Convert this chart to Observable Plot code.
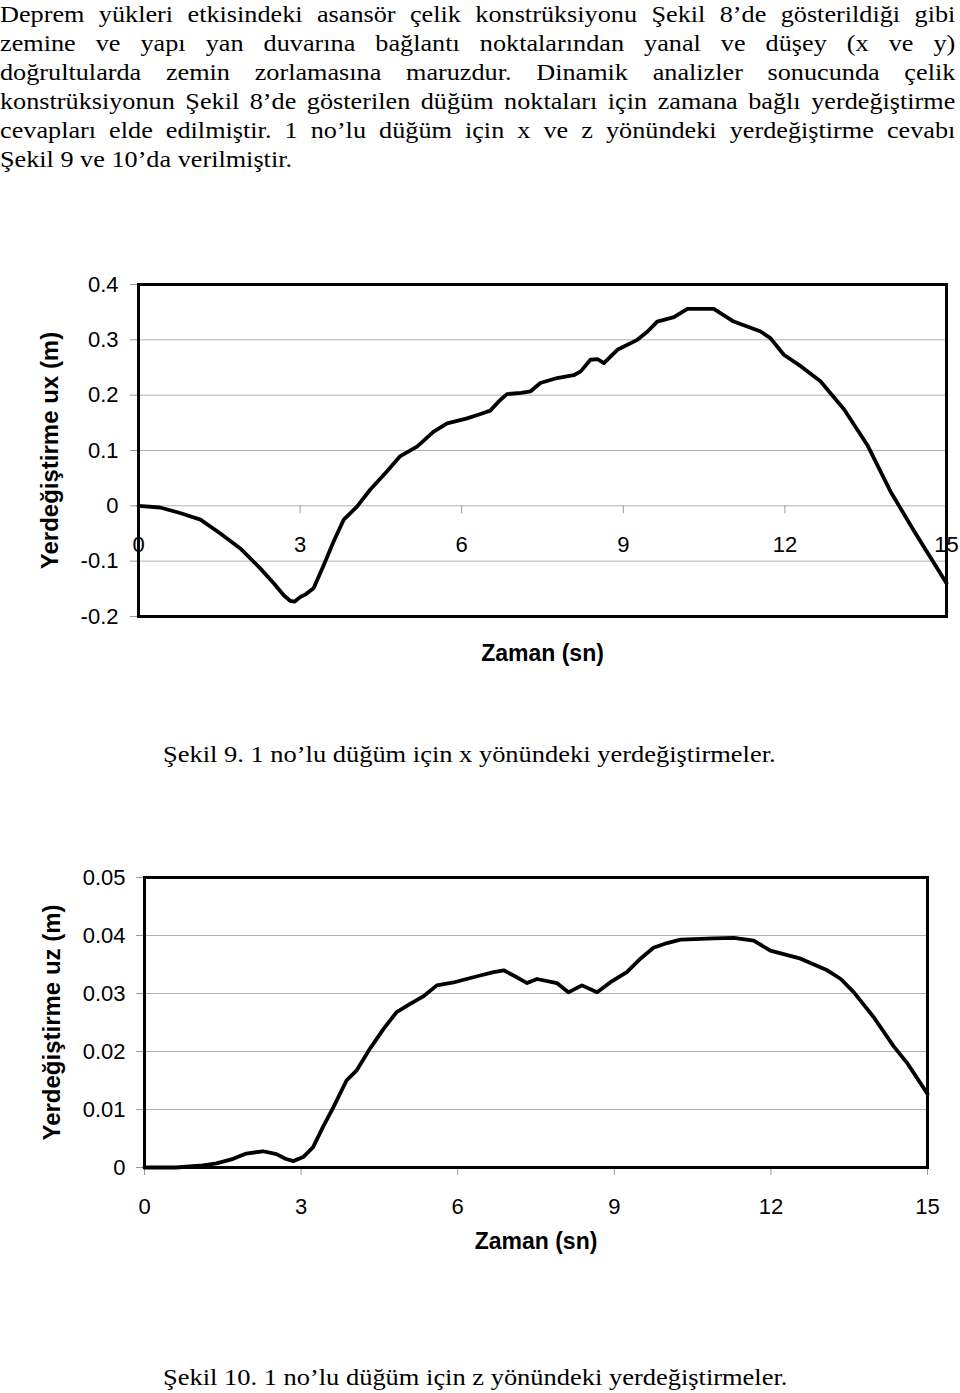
<!DOCTYPE html>
<html>
<head>
<meta charset="utf-8">
<script src="https://cdn.jsdelivr.net/npm/d3@7"></script>
<script src="https://cdn.jsdelivr.net/npm/@observablehq/plot@0.6"></script>
<style>
  html, body { margin: 0; padding: 0; background: #fff; }
  body { width: 960px; height: 1393px; position: relative; overflow: hidden; }
  .para { position: absolute; left: 0; top: 0; font-family: "Liberation Serif", "Times New Roman", serif; font-size: 23px; line-height: 29px; color: #000; }
  .para div { width: 838px; transform: scaleX(1.14); transform-origin: 0 0; text-align: justify; text-align-last: justify; white-space: nowrap; }
  .para div.last { text-align-last: left; }
  .cap { position: absolute; left: 163px; font-family: "Liberation Serif", "Times New Roman", serif; font-size: 23px; line-height: 29px; transform: scaleX(1.15); transform-origin: 0 0; white-space: nowrap; color: #000; }
  .chart { position: absolute; left: 0; }
</style>
</head>
<body>
<div class="para" id="para"></div>
<div class="chart" id="chart1" style="top:260px"></div>
<div class="cap" id="cap1" style="top:740px"></div>
<div class="chart" id="chart2" style="top:850px"></div>
<div class="cap" id="cap2" style="top:1363px"></div>
<script>
// ---- text ----
const paragraphLines = [
  "Deprem yükleri etkisindeki asansör çelik konstrüksiyonu Şekil 8’de gösterildiği gibi",
  "zemine ve yapı yan duvarına bağlantı noktalarından yanal ve düşey (x ve y)",
  "doğrultularda zemin zorlamasına maruzdur. Dinamik analizler sonucunda çelik",
  "konstrüksiyonun Şekil 8’de gösterilen düğüm noktaları için zamana bağlı yerdeğiştirme",
  "cevapları elde edilmiştir. 1 no’lu düğüm için x ve z yönündeki yerdeğiştirme cevabı",
  "Şekil 9 ve 10’da verilmiştir."
];
const caption1 = "Şekil 9. 1 no’lu düğüm için x yönündeki yerdeğiştirmeler.";
const caption2 = "Şekil 10. 1 no’lu düğüm için z yönündeki yerdeğiştirmeler.";
const xLabel = "Zaman (sn)";
const yLabel1 = "Yerdeğiştirme ux (m)";
const yLabel2 = "Yerdeğiştirme uz (m)";

// ---- ticks ----
const xTicks = [0, 3, 6, 9, 12, 15];
const yTicks1 = [-0.2, -0.1, 0, 0.1, 0.2, 0.3, 0.4];
const yTicks2 = [0, 0.01, 0.02, 0.03, 0.04, 0.05];

// ---- Şekil 9: ux (m) vs zaman (sn) ----
const time1 = [0, 0.4, 0.77, 1.15, 1.52, 1.89, 2.26, 2.51, 2.7, 2.82, 2.9, 3.0, 3.1, 3.25, 3.44, 3.62, 3.81, 4.06, 4.3, 4.61, 4.86, 5.17, 5.48, 5.73, 6.1, 6.35, 6.53, 6.7, 6.84, 7.1, 7.28, 7.46, 7.77, 8.08, 8.21, 8.39, 8.52, 8.64, 8.89, 9.26, 9.45, 9.63, 9.94, 10.19, 10.68, 11.05, 11.55, 11.73, 11.98, 12.3, 12.66, 13.1, 13.53, 13.96, 14.4, 15.0];
const ux    = [0, -0.003, -0.013, -0.025, -0.05, -0.077, -0.113, -0.14, -0.162, -0.172, -0.173, -0.165, -0.16, -0.149, -0.107, -0.065, -0.025, -0.001, 0.029, 0.062, 0.09, 0.107, 0.134, 0.149, 0.158, 0.166, 0.172, 0.19, 0.202, 0.204, 0.207, 0.222, 0.231, 0.236, 0.243, 0.264, 0.265, 0.258, 0.282, 0.3, 0.315, 0.333, 0.341, 0.356, 0.356, 0.333, 0.315, 0.303, 0.273, 0.252, 0.225, 0.174, 0.11, 0.026, -0.046, -0.14];

// ---- Şekil 10: uz (m) vs zaman (sn) ----
const time2 = [0, 0.6, 1.06, 1.38, 1.7, 1.95, 2.27, 2.53, 2.7, 2.85, 3.04, 3.23, 3.42, 3.62, 3.87, 4.06, 4.32, 4.58, 4.83, 5.09, 5.34, 5.6, 5.92, 6.17, 6.43, 6.69, 6.88, 7.07, 7.33, 7.52, 7.9, 8.12, 8.38, 8.67, 8.92, 9.24, 9.5, 9.75, 10.01, 10.27, 10.91, 11.29, 11.67, 11.99, 12.57, 13.08, 13.34, 13.59, 13.97, 14.36, 14.62, 15.0];
const uz    = [0, 0, 0.0003, 0.0007, 0.0015, 0.0024, 0.0028, 0.0023, 0.0015, 0.0011, 0.0018, 0.0035, 0.007, 0.0104, 0.015, 0.0167, 0.0205, 0.0239, 0.0268, 0.0282, 0.0295, 0.0314, 0.0319, 0.0325, 0.0331, 0.0337, 0.034, 0.0331, 0.0318, 0.0325, 0.0318, 0.0302, 0.0314, 0.0302, 0.0319, 0.0337, 0.036, 0.0379, 0.0387, 0.0393, 0.0395, 0.0396, 0.0391, 0.0374, 0.036, 0.034, 0.0325, 0.0302, 0.0259, 0.0208, 0.0179, 0.0127];

// ---- build ----
const paraEl = document.getElementById("para");
paragraphLines.forEach((t, i) => {
  const d = document.createElement("div");
  d.textContent = t;
  if (i === paragraphLines.length - 1) d.className = "last";
  paraEl.appendChild(d);
});
document.getElementById("cap1").textContent = caption1;
document.getElementById("cap2").textContent = caption2;

const fmt = d => String(d);

function makeChart({times, values, yDomain, yTicks, yLabel, height, marginTop, marginBottom, marginLeft, marginRight, tickPadding, labelDx, xLabelDy}) {
  const data = times.map((t, i) => ({t, v: values[i]}));
  return Plot.plot({
    width: 960,
    height,
    marginTop, marginBottom, marginLeft, marginRight,
    style: {fontFamily: "'Liberation Sans', Arial, sans-serif", fontSize: "22px", color: "#000", background: "#fff", overflow: "visible"},
    x: {domain: [0, 15], axis: null},
    y: {domain: yDomain},
    marks: [
      Plot.gridY(yTicks, {stroke: "#b0b0b0", strokeOpacity: 1, strokeWidth: 1}),
      Plot.axisY(yTicks, {tickSize: 8, tickPadding, stroke: "#999", tickFormat: fmt, label: null, fontSize: 22}),
      Plot.ruleX(xTicks, {x: d => d, y1: 0, y2: 0, insetBottom: -8, stroke: "#999"}),
      Plot.text(xTicks, {x: d => d, y: 0, dy: 39, text: fmt, fontSize: 22}),
      Plot.line(data, {x: "t", y: "v", stroke: "#000", strokeWidth: 3.8, strokeLinejoin: "round"}),
      Plot.frame({stroke: "#000", strokeWidth: 3}),
      Plot.text([yLabel], {frameAnchor: "left", textAnchor: "middle", rotate: -90, dx: labelDx, text: d => d, fontWeight: "bold", fontSize: 24}),
      Plot.text([xLabel], {frameAnchor: "bottom", dy: xLabelDy, text: d => d, fontWeight: "bold", fontSize: 23})
    ]
  });
}

document.getElementById("chart1").appendChild(makeChart({
  times: time1, values: ux, yDomain: [-0.2, 0.4], yTicks: yTicks1, yLabel: yLabel1,
  height: 420, marginTop: 24, marginBottom: 64, marginLeft: 138, marginRight: 14,
  tickPadding: 12, labelDx: -88, xLabelDy: 44
}));

document.getElementById("chart2").appendChild(makeChart({
  times: time2, values: uz, yDomain: [0, 0.05], yTicks: yTicks2, yLabel: yLabel2,
  height: 420, marginTop: 27, marginBottom: 103, marginLeft: 144, marginRight: 33,
  tickPadding: 11, labelDx: -92, xLabelDy: 81
}));
</script>
</body>
</html>
